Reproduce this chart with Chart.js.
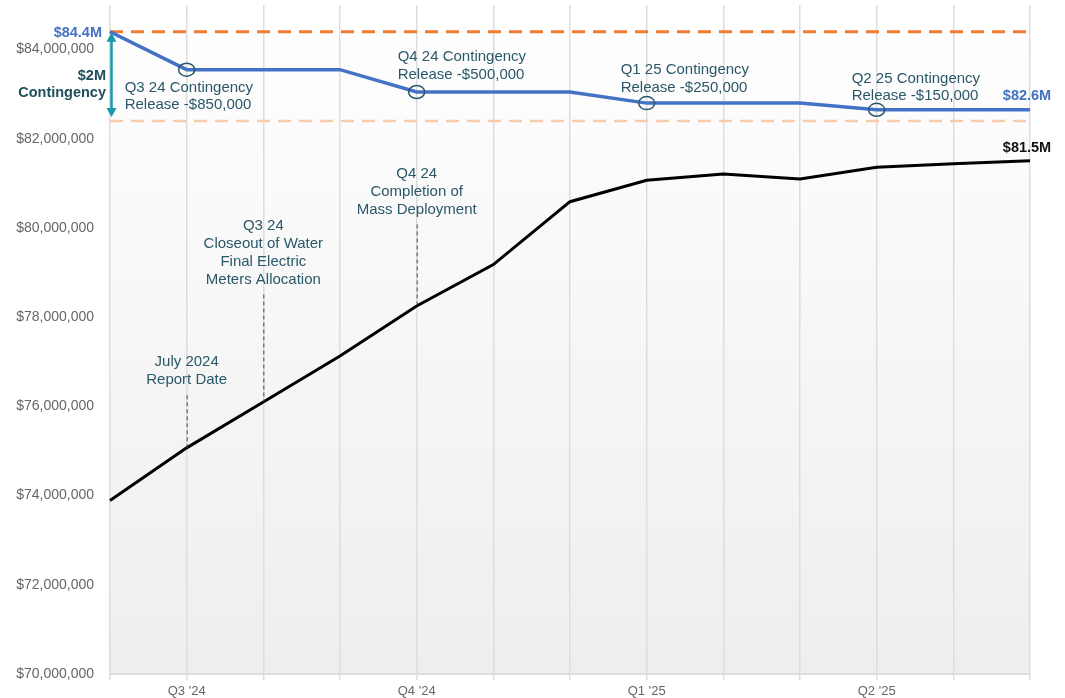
<!DOCTYPE html>
<html>
<head>
<meta charset="utf-8">
<script src="https://cdn.jsdelivr.net/npm/chart.js@4.4.1/dist/chart.umd.min.js"></script>
<style>
    html, body { margin: 0; padding: 0; background: #fff; }
    #wrap { width: 1065px; height: 698px; }
</style>
</head>
<body>
<div id="wrap"><canvas id="line_chart" width="1065" height="698"></canvas></div>
<script>
// monthly points, Jun 2024 .. Jun 2025
var months = ['Jun 2024', 'Jul 2024', 'Aug 2024', 'Sep 2024', 'Oct 2024', 'Nov 2024', 'Dec 2024',
    'Jan 2025', 'Feb 2025', 'Mar 2025', 'Apr 2025', 'May 2025', 'Jun 2025'];
var quarterLabels = ['', "Q3 '24", '', '', "Q4 '24", '', '', "Q1 '25", '', '', "Q2 '25", '', ''];

var budget = [84400000, 83550000, 83550000, 83550000, 83050000, 83050000, 83050000,
    82800000, 82800000, 82800000, 82650000, 82650000, 82650000];
var forecast = [73890000, 75070000, 76100000, 77130000, 78250000, 79180000, 80590000,
    81070000, 81210000, 81100000, 81360000, 81440000, 81510000];

var baseline = 84400000;
var contingencyFloor = 82400000;
var yTicks = [70000000, 72000000, 74000000, 76000000, 78000000, 80000000, 82000000, 84000000];

var releaseIdx = [1, 4, 7, 10];
var releaseText = [
    ['Q3 24 Contingency', 'Release -$850,000'],
    ['Q4 24 Contingency', 'Release -$500,000'],
    ['Q1 25 Contingency', 'Release -$250,000'],
    ['Q2 25 Contingency', 'Release -$150,000']
];

var eventIdx = [1, 2, 4];
var eventTop = [76250000, 78510000, 80080000];
var eventText = [
    ['July 2024', 'Report Date'],
    ['Q3 24', 'Closeout of Water', 'Final Electric', 'Meters Allocation'],
    ['Q4 24', 'Completion of', 'Mass Deployment']
];

var FONT = "'Liberation Sans', Arial, sans-serif";
var NOTE = '#2a5868';

var notesPlugin = {
    id: 'notes',
    beforeDraw: function (chart) {
        var ctx = chart.ctx, a = chart.chartArea;
        var g = ctx.createLinearGradient(0, a.top, 0, a.bottom);
        g.addColorStop(0, '#ffffff');
        g.addColorStop(1, '#eeeeee');
        ctx.save();
        ctx.fillStyle = g;
        ctx.fillRect(a.left, a.top, a.right - a.left, a.bottom - a.top);
        ctx.restore();
    },
    beforeDatasetsDraw: function (chart) {
        var ctx = chart.ctx, a = chart.chartArea, y = chart.scales.y;
        ctx.save();
        ctx.setLineDash([13, 8]);
        ctx.lineWidth = 2.5;
        ctx.strokeStyle = '#f8cbad';
        ctx.beginPath();
        ctx.moveTo(a.left, y.getPixelForValue(contingencyFloor));
        ctx.lineTo(a.right, y.getPixelForValue(contingencyFloor));
        ctx.stroke();
        ctx.lineWidth = 3;
        ctx.strokeStyle = '#ed7d31';
        ctx.beginPath();
        ctx.moveTo(a.left, y.getPixelForValue(baseline));
        ctx.lineTo(a.right, y.getPixelForValue(baseline));
        ctx.stroke();
        ctx.restore();
    },
    afterDatasetsDraw: function (chart) {
        var ctx = chart.ctx, a = chart.chartArea, x = chart.scales.x, y = chart.scales.y;
        var i, j, px, py;
        ctx.save();
        ctx.textBaseline = 'middle';

        // contingency releases: circle on the budget line + two-line note
        var offs = [[-62, 18], [-19, -35], [-26, -33], [-25, -31]];
        for (i = 0; i < releaseIdx.length; i++) {
            px = x.getPixelForValue(releaseIdx[i]);
            py = y.getPixelForValue(budget[releaseIdx[i]]);
            ctx.strokeStyle = NOTE;
            ctx.lineWidth = 1.5;
            ctx.beginPath();
            ctx.ellipse(px, py, 8, 6.5, 0, 0, Math.PI * 2);
            ctx.stroke();
            ctx.fillStyle = NOTE;
            ctx.font = '15px ' + FONT;
            ctx.textAlign = 'left';
            for (j = 0; j < releaseText[i].length; j++) {
                ctx.fillText(releaseText[i][j], px + offs[i][0], py + offs[i][1] + j * 17.5);
            }
        }

        // milestone notes with dashed leaders down to the forecast line
        for (i = 0; i < eventIdx.length; i++) {
            px = x.getPixelForValue(eventIdx[i]);
            var top = y.getPixelForValue(eventTop[i]);
            var bot = y.getPixelForValue(forecast[eventIdx[i]]);
            ctx.strokeStyle = '#1f5566';
            ctx.lineWidth = 1;
            ctx.setLineDash([4, 3]);
            ctx.beginPath();
            ctx.moveTo(px + 0.5, top);
            ctx.lineTo(px + 0.5, bot);
            ctx.stroke();
            ctx.setLineDash([]);
            ctx.fillStyle = NOTE;
            ctx.font = '15px ' + FONT;
            ctx.textAlign = 'center';
            var n = eventText[i].length;
            for (j = 0; j < n; j++) {
                ctx.fillText(eventText[i][j], px, top - 15 - (n - 1 - j) * 18);
            }
        }

        // $2M contingency arrow
        var ax = a.left + 1.5;
        var y1 = y.getPixelForValue(baseline) + 1, y2 = y.getPixelForValue(contingencyFloor) - 4;
        ctx.strokeStyle = '#1699ad';
        ctx.fillStyle = '#1699ad';
        ctx.lineWidth = 2.5;
        ctx.beginPath();
        ctx.moveTo(ax, y1 + 6);
        ctx.lineTo(ax, y2 - 6);
        ctx.stroke();
        ctx.beginPath();
        ctx.moveTo(ax, y1); ctx.lineTo(ax - 5, y1 + 9); ctx.lineTo(ax + 5, y1 + 9); ctx.closePath();
        ctx.fill();
        ctx.beginPath();
        ctx.moveTo(ax, y2); ctx.lineTo(ax - 5, y2 - 9); ctx.lineTo(ax + 5, y2 - 9); ctx.closePath();
        ctx.fill();

        ctx.font = 'bold 14.5px ' + FONT;
        ctx.textAlign = 'right';
        ctx.fillStyle = '#1f4e5c';
        var mid = (y1 + y2) / 2;
        ctx.fillText('$2M', a.left - 4, mid + 1);
        ctx.fillText('Contingency', a.left - 4, mid + 18);

        // value callouts
        ctx.font = 'bold 14.5px ' + FONT;
        ctx.fillStyle = '#4472c4';
        ctx.fillText('$84.4M', a.left - 8, y.getPixelForValue(baseline) + 1);
        ctx.textAlign = 'center';
        var last = budget.length - 1;
        ctx.fillText('$82.6M', x.getPixelForValue(last) - 3, y.getPixelForValue(budget[last]) - 14);
        ctx.fillStyle = '#111111';
        ctx.fillText('$81.5M', x.getPixelForValue(last) - 3, y.getPixelForValue(forecast[last]) - 13);
        ctx.restore();
    }
};

Chart.defaults.font.family = FONT;

new Chart(document.getElementById('line_chart').getContext('2d'), {
    type: 'line',
    data: {
        labels: months,
        datasets: [{
            label: 'Budget',
            data: budget,
            borderColor: '#4472c4',
            borderWidth: 3.5,
            pointRadius: 0,
            tension: 0,
            clip: false
        }, {
            label: 'Forecast',
            data: forecast,
            borderColor: '#000000',
            borderWidth: 3,
            pointRadius: 0,
            tension: 0,
            clip: false
        }]
    },
    options: {
        responsive: false,
        animation: false,
        layout: { padding: { top: 5, right: 35, left: 0, bottom: 0 } },
        plugins: { legend: { display: false }, tooltip: { enabled: false } },
        scales: {
            x: {
                offset: false,
                grid: { color: '#dddddd', lineWidth: 1.5, tickLength: 6, drawTicks: true },
                border: { color: '#dddddd', width: 2 },
                ticks: {
                    autoSkip: false,
                    maxRotation: 0,
                    padding: 4,
                    color: '#666666',
                    font: { size: 13 },
                    callback: function (v, i) { return quarterLabels[i]; }
                },
                afterFit: function (s) { s.height = 24; }
            },
            y: {
                min: 70000000,
                max: 85000000,
                grid: { display: false, drawTicks: false },
                border: { display: false },
                ticks: {
                    padding: 16,
                    color: '#666666',
                    font: { size: 14 },
                    callback: function (v) { return '$' + v.toLocaleString('en-US'); }
                },
                afterBuildTicks: function (s) {
                    s.ticks = yTicks.map(function (v) { return { value: v }; });
                },
                afterFit: function (s) {
                    s.width = 110;
                    s.paddingTop = 0;
                    s.paddingBottom = 0;
                }
            }
        }
    },
    plugins: [notesPlugin]
});
</script>
</body>
</html>
